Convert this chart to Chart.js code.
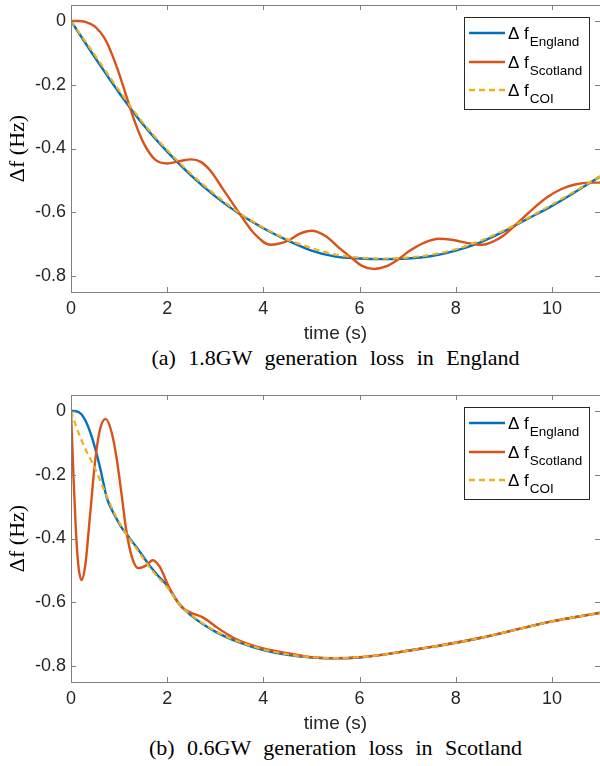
<!DOCTYPE html>
<html>
<head>
<meta charset="utf-8">
<script src="https://cdn.jsdelivr.net/npm/chart.js@4.4.1/dist/chart.umd.min.js"></script>
<style>
    body { margin: 0; background: #fff; width: 600px; height: 766px; overflow: hidden; position: relative; }
    .plot { position: absolute; left: 0; }
    .caption {
        position: absolute; left: 71px; width: 529px; height: 26px; line-height: 26px;
        text-align: center; font-family: "Liberation Serif", serif; font-size: 22px;
        word-spacing: 7px; color: #000; white-space: nowrap;
    }
</style>
</head>
<body>
<canvas id="chartTop" class="plot" width="600" height="345" style="top:0"></canvas>
<div class="caption" style="top:345px">(a) 1.8GW generation loss in England</div>
<canvas id="chartBottom" class="plot" width="600" height="345" style="top:390px"></canvas>
<div class="caption" style="top:735px">(b) 0.6GW generation loss in Scotland</div>

<script>
// Axis ticks
const xTicks = [0, 2, 4, 6, 8, 10];
const yTicks = [0, -0.2, -0.4, -0.6, -0.8];
const legendSubs = ['England', 'Scotland', 'COI'];

// (a) 1.8GW loss in England
const topEngT = [0, 0.5, 1, 1.5, 2, 2.5, 3, 3.5, 4, 4.5, 5, 5.5, 6, 6.5, 7, 7.5, 8, 8.5, 9, 9.5, 10, 10.5, 11];
const topEngV = [0, -0.115, -0.225, -0.325, -0.41, -0.485, -0.55, -0.605, -0.65, -0.688, -0.72, -0.739, -0.745, -0.747, -0.745, -0.737, -0.72, -0.695, -0.66, -0.62, -0.58, -0.535, -0.488];

const topScoT = [0, 0.15, 0.3, 0.5, 0.7, 0.85, 1, 1.15, 1.3, 1.5, 1.75, 2, 2.25, 2.5, 2.7, 2.9, 3.15, 3.5, 3.8, 4.15, 4.5, 4.75, 5, 5.3, 5.6, 5.85, 6.05, 6.3, 6.55, 6.8, 7.05, 7.35, 7.65, 7.95, 8.3, 8.55, 8.8, 9, 9.3, 9.6, 9.9, 10.2, 10.5, 10.8, 11];
const topScoV = [0, 0, -0.003, -0.018, -0.055, -0.104, -0.165, -0.235, -0.305, -0.38, -0.435, -0.447, -0.44, -0.434, -0.442, -0.47, -0.525, -0.603, -0.665, -0.702, -0.69, -0.668, -0.658, -0.675, -0.715, -0.745, -0.768, -0.778, -0.77, -0.748, -0.72, -0.695, -0.683, -0.687, -0.698, -0.702, -0.69, -0.672, -0.632, -0.59, -0.553, -0.527, -0.512, -0.507, -0.507];

const topCoiT = [0, 0.5, 1, 1.5, 2, 2.5, 3, 3.5, 4, 4.5, 5, 5.5, 6, 6.5, 7, 7.5, 8, 8.5, 9, 9.5, 10, 10.5, 11];
const topCoiV = [0, -0.108, -0.218, -0.32, -0.405, -0.48, -0.545, -0.602, -0.648, -0.685, -0.712, -0.733, -0.742, -0.745, -0.742, -0.733, -0.716, -0.69, -0.657, -0.618, -0.576, -0.532, -0.487];

// (b) 0.6GW loss in Scotland
const botEngT = [0, 0.15, 0.3, 0.45, 0.6, 0.75, 0.9, 1.05, 1.2, 1.4, 1.6, 1.8, 2, 2.25, 2.5, 3, 3.5, 4, 4.5, 5, 5.5, 6, 6.5, 7, 7.5, 8, 8.5, 9, 9.5, 10, 10.5, 11];
const botEngV = [0, -0.003, -0.03, -0.09, -0.175, -0.275, -0.325, -0.365, -0.395, -0.435, -0.478, -0.515, -0.548, -0.605, -0.642, -0.692, -0.726, -0.75, -0.765, -0.773, -0.776, -0.773, -0.764, -0.752, -0.74, -0.727, -0.712, -0.695, -0.677, -0.66, -0.646, -0.633];

const botScoT = [0, 0.05, 0.1, 0.15, 0.22, 0.3, 0.4, 0.5, 0.6, 0.72, 0.85, 0.95, 1.05, 1.15, 1.27, 1.4, 1.55, 1.7, 1.85, 2, 2.15, 2.3, 2.5, 2.75, 3, 3.25, 3.5, 4, 4.5, 5, 5.5, 6, 6.5, 7, 7.5, 8, 8.5, 9, 9.5, 10, 10.5, 11];
const botScoV = [0, -0.2, -0.37, -0.48, -0.53, -0.48, -0.32, -0.16, -0.06, -0.025, -0.07, -0.15, -0.26, -0.375, -0.46, -0.493, -0.486, -0.468, -0.49, -0.54, -0.585, -0.615, -0.633, -0.648, -0.675, -0.7, -0.72, -0.745, -0.76, -0.772, -0.775, -0.772, -0.764, -0.752, -0.74, -0.727, -0.712, -0.695, -0.677, -0.66, -0.646, -0.634];

const botCoiT = [0, 0.1, 0.2, 0.3, 0.45, 0.6, 0.75, 0.9, 1.05, 1.2, 1.4, 1.6, 1.8, 2, 2.25, 2.5, 3, 3.5, 4, 4.5, 5, 5.5, 6, 6.5, 7, 7.5, 8, 8.5, 9, 9.5, 10, 10.5, 11];
const botCoiV = [0, -0.045, -0.085, -0.12, -0.165, -0.215, -0.27, -0.32, -0.362, -0.397, -0.44, -0.483, -0.52, -0.553, -0.605, -0.64, -0.69, -0.724, -0.748, -0.763, -0.772, -0.775, -0.772, -0.764, -0.752, -0.74, -0.727, -0.712, -0.695, -0.677, -0.66, -0.646, -0.633];

const colors = ['#0072BD', '#D95319', '#EDB120'];

function toPoints(ts, vs) {
    return ts.map((t, i) => ({ x: t, y: vs[i] }));
}

// MATLAB-like box with inward ticks, plus legend with subscripts
const boxPlugin = {
    id: 'matlabBox',
    afterDatasetsDraw(chart) {
        const { ctx, chartArea: a, scales: { x, y } } = chart;
        ctx.save();
        ctx.strokeStyle = '#808080';
        ctx.lineWidth = 1;
        ctx.strokeRect(a.left + 0.5, a.top + 0.5, a.right - a.left, a.bottom - a.top);
        ctx.beginPath();
        xTicks.forEach(v => {
            const px = Math.round(x.getPixelForValue(v)) + 0.5;
            ctx.moveTo(px, a.bottom); ctx.lineTo(px, a.bottom - 5);
            ctx.moveTo(px, a.top); ctx.lineTo(px, a.top + 5);
        });
        yTicks.forEach(v => {
            const py = Math.round(y.getPixelForValue(v)) + 0.5;
            ctx.moveTo(a.left, py); ctx.lineTo(a.left + 5, py);
            ctx.moveTo(a.right, py); ctx.lineTo(a.right - 5, py);
        });
        ctx.stroke();

        // legend
        const lx = a.right - 136, ly = a.top + 12, lw = 125, lh = 92;
        ctx.fillStyle = '#fff';
        ctx.fillRect(lx, ly, lw, lh);
        ctx.strokeStyle = '#262626';
        ctx.strokeRect(lx + 0.5, ly + 0.5, lw, lh);
        const rows = [16, 45, 73];
        chart.data.datasets.forEach((ds, i) => {
            const ry = ly + rows[i];
            ctx.strokeStyle = ds.borderColor;
            ctx.lineWidth = 2.4;
            ctx.setLineDash(ds.borderDash || []);
            ctx.beginPath();
            ctx.moveTo(lx + 5, ry); ctx.lineTo(lx + 41, ry);
            ctx.stroke();
            ctx.setLineDash([]);
            ctx.fillStyle = '#000';
            ctx.textBaseline = 'alphabetic';
            ctx.font = '17px "Liberation Sans"';
            ctx.fillText('\u0394 f', lx + 44, ry + 6);
            const w = ctx.measureText('\u0394 f').width;
            ctx.font = '13.5px "Liberation Sans"';
            ctx.fillText(legendSubs[i], lx + 45 + w, ry + 13);
        });
        ctx.restore();
    }
};

function makeChart(id, eng, sco, coi) {
    return new Chart(document.getElementById(id), {
        type: 'line',
        data: {
            datasets: [
                { label: 'England', data: eng, borderColor: colors[0], borderWidth: 2.4, order: 3 },
                { label: 'Scotland', data: sco, borderColor: colors[1], borderWidth: 2.4, order: 2 },
                { label: 'COI', data: coi, borderColor: colors[2], borderWidth: 2.2, borderDash: [6, 4], order: 1 }
            ]
        },
        options: {
            responsive: false,
            animation: false,
            events: [],
            parsing: false,
            elements: {
                point: { radius: 0 },
                line: { cubicInterpolationMode: 'monotone', fill: false }
            },
            layout: { padding: { top: 5, right: 0, left: 0, bottom: 0 } },
            plugins: { legend: { display: false }, tooltip: { enabled: false } },
            scales: {
                x: {
                    type: 'linear',
                    min: 0,
                    max: 11,
                    afterBuildTicks: s => { s.ticks = xTicks.map(v => ({ value: v })); },
                    afterFit: s => { s.height = 53; s.paddingLeft = 0; s.paddingRight = 0; },
                    grid: { display: false, drawTicks: false },
                    border: { display: false },
                    ticks: { padding: 6, color: '#262626', font: { family: 'Liberation Sans', size: 18 }, maxRotation: 0, callback: v => String(v) },
                    title: { display: true, text: 'time (s)', color: '#262626', font: { family: 'Liberation Sans', size: 19 }, padding: { top: 0, bottom: 0 } }
                },
                y: {
                    type: 'linear',
                    min: -0.85,
                    max: 0.05,
                    afterBuildTicks: s => { s.ticks = yTicks.map(v => ({ value: v })); },
                    afterFit: s => { s.width = 71; s.paddingTop = 0; s.paddingBottom = 0; },
                    grid: { display: false, drawTicks: false },
                    border: { display: false },
                    ticks: { padding: 5, color: '#262626', font: { family: 'Liberation Sans', size: 18 }, callback: v => String(v) },
                    title: { display: true, text: '\u0394f (Hz)', color: '#000', font: { family: 'Liberation Serif', size: 22 }, padding: { top: 5, bottom: 0 } }
                }
            }
        },
        plugins: [boxPlugin]
    });
}

makeChart('chartTop', toPoints(topEngT, topEngV), toPoints(topScoT, topScoV), toPoints(topCoiT, topCoiV));
makeChart('chartBottom', toPoints(botEngT, botEngV), toPoints(botScoT, botScoV), toPoints(botCoiT, botCoiV));
</script>
</body>
</html>
